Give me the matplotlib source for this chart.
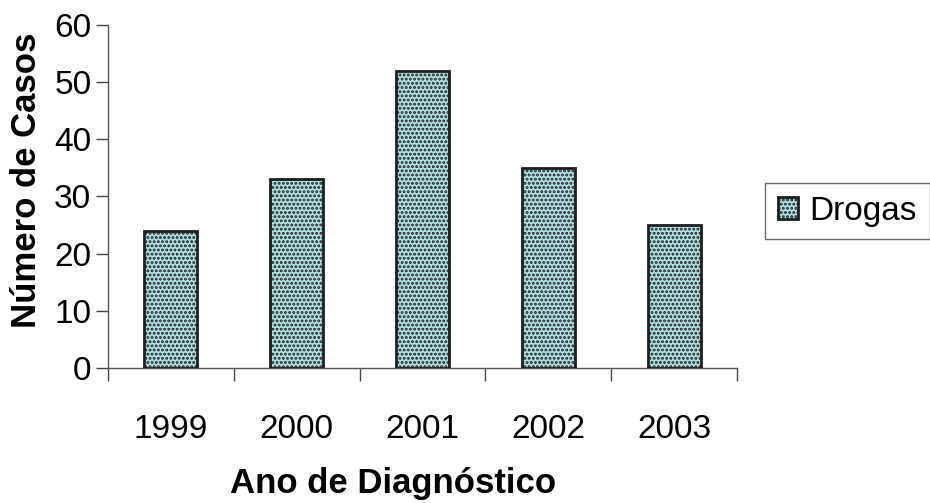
"""Casos por ano de diagnóstico (Drogas)."""

import matplotlib.pyplot as plt

plt.rcParams["font.family"] = ["Liberation Sans", "DejaVu Sans"]
plt.rcParams["hatch.color"] = "#263c3c"
plt.rcParams["hatch.linewidth"] = 1.4

years = ["1999", "2000", "2001", "2002", "2003"]
drogas = [24, 33, 52, 35, 25]


def main() -> None:
    fig = plt.figure(figsize=(9.3, 5.03), dpi=100)
    ax = fig.add_axes([0.1161, 0.2684, 0.6764, 0.6819])

    x = range(len(years))
    ax.bar(
        list(x),
        drogas,
        width=0.42,
        facecolor="#ade0e0",
        edgecolor="#1e1e1e",
        linewidth=2.0,
        hatch="....",
        label="Drogas",
        zorder=3,
    )

    ax.set_xlim(-0.5, len(years) - 0.5)
    ax.set_ylim(0, 60)
    ax.set_yticks(range(0, 61, 10))
    ax.set_xticks(list(x))
    ax.set_xticklabels(years)
    # category boundaries get the tick marks, labels sit in between
    ax.set_xticks([i - 0.5 for i in range(len(years) + 1)], minor=True)
    ax.tick_params(axis="x", which="major", length=0, pad=33, labelsize=24)
    ax.tick_params(axis="x", which="minor", length=9, width=1, color="#444")
    ax.tick_params(axis="y", length=9, width=1, color="#444", labelsize=24, pad=3)

    for side in ("top", "right"):
        ax.spines[side].set_visible(False)
    for side in ("left", "bottom"):
        ax.spines[side].set_color("#555")
        ax.spines[side].set_linewidth(1.0)

    fig.text(27 / 930, 1 - 180 / 503, "Número de Casos", rotation=90,
             fontsize=25, fontweight="bold", ha="center", va="center")
    fig.text(393 / 930, 1 - 483 / 503, "Ano de Diagnóstico",
             fontsize=25, fontweight="bold", ha="center", va="center")

    leg = fig.legend(
        loc="upper left",
        bbox_to_anchor=(765 / 930, 1 - 183 / 503),
        fontsize=24,
        frameon=True,
        fancybox=False,
        borderpad=0.38,
        handlelength=0.6,
        handleheight=0.6,
        handletextpad=0.35,
        borderaxespad=0,
    )
    leg.get_frame().set_edgecolor("#444")
    leg.get_frame().set_linewidth(1.0)

    fig.savefig("out.png", dpi=100)
    plt.close(fig)


if __name__ == "__main__":
    main()
